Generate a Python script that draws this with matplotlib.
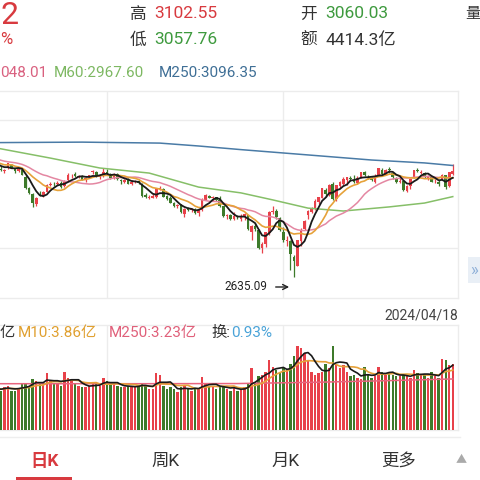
import matplotlib
matplotlib.use('Agg')
import matplotlib.pyplot as plt
import numpy as np
import pandas as pd
from matplotlib.transforms import ScaledTranslation
from matplotlib.patches import Rectangle

plt.rcParams['font.family'] = ['Roboto', 'Noto Sans CJK SC', 'DejaVu Sans']

# ---------------- data (trading days Oct 2023 - 2024/04/18) ----------------
opens = [3103, 3083, 3073, 3085, 3100, 3083, 3072, 3079, 3050, 3005, 2980, 2937, 2975, 2971, 2988, 3017, 3021,
         3020, 3025, 3010, 3036, 3056, 3060, 3050, 3052, 3035, 3050, 3070, 3070, 3047, 3052, 3070, 3063, 3044, 3062, 3037, 3030, 3040, 3021,
         3028, 3031, 3020, 2976, 2963, 2963, 2965, 3000, 3000, 2970, 2962, 2940, 2928, 2935, 2895, 2917, 2912, 2917, 2899, 2912, 2955,
         2972, 2960, 2965, 2952, 2927, 2886, 2892, 2876, 2884, 2876, 2885, 2890, 2822, 2844, 2830, 2755, 2771, 2819, 2906, 2910, 2879, 2823,
         2784, 2782, 2716, 2681, 2785, 2833, 2890, 2904, 2916, 2944, 2963, 2996, 2975, 3018, 2956,
         3010, 3020, 3035, 3043, 3036, 3024, 3049, 3070, 3050, 3039, 3028, 3055, 3077, 3058, 3082, 3067, 3046, 3028, 3033, 2990, 3012,
         3044, 3076, 3066, 3064, 3043, 3048, 3032, 3030, 3039, 3055, 3010, 3060.03]
highs = [3107, 3095, 3082, 3108, 3102, 3086, 3086, 3085, 3055, 3009, 2984, 2966, 2990, 2992, 3020, 3028, 3027,
         3034, 3032, 3035, 3065, 3062, 3068, 3058, 3056, 3048, 3058, 3076, 3073, 3056, 3087, 3080, 3066, 3064, 3064, 3041, 3040, 3046, 3036,
         3036, 3039, 3022, 2984, 2975, 2978, 3004, 3010, 3003, 2975, 2970, 2945, 2935, 2938, 2919, 2925, 2922, 2920, 2916, 2960, 2977,
         2976, 2969, 2967, 2972, 2930, 2896, 2895, 2905, 2892, 2895, 2900, 2893, 2852, 2858, 2832, 2779, 2821, 2907, 2929, 2916, 2883, 2843,
         2805, 2787, 2728, 2790, 2836, 2872, 2911, 2923, 2959, 2967, 3005, 3004, 3018, 3029, 3016,
         3032, 3049, 3048, 3052, 3058, 3052, 3070, 3075, 3058, 3050, 3060, 3087, 3085, 3081, 3090, 3071, 3050, 3047, 3036, 3015, 3042,
         3078, 3087, 3076, 3071, 3056, 3052, 3042, 3035, 3063, 3058, 3071, 3102.55]
lows = [3065, 3072, 3064, 3083, 3085, 3065, 3068, 3057, 3000, 2978, 2923, 2930, 2970, 2965, 2985, 3010, 3010,
        3015, 3005, 3008, 3034, 3046, 3049, 3045, 3035, 3030, 3044, 3063, 3050, 3040, 3048, 3060, 3040, 3040, 3038, 3020, 3024, 3020, 3014,
        3022, 3018, 2968, 2960, 2958, 2960, 2963, 2995, 2966, 2953, 2940, 2925, 2920, 2900, 2882, 2907, 2905, 2895, 2889, 2910, 2952,
        2960, 2950, 2950, 2925, 2884, 2875, 2870, 2870, 2876, 2866, 2870, 2831, 2787, 2827, 2752, 2735, 2760, 2810, 2895, 2877, 2827, 2780,
        2763, 2666, 2635.09, 2680, 2762, 2830, 2876, 2900, 2911, 2935, 2960, 2968, 2970, 2953, 2951,
        3005, 3015, 3015, 3033, 3025, 3020, 3044, 3052, 3040, 3031, 3024, 3054, 3055, 3057, 3066, 3040, 3023, 3022, 2991, 2987, 3000,
        3043, 3070, 3060, 3043, 3035, 3027, 3025, 3012, 3035, 3000, 3007, 3057.76]
closes = [3076, 3076, 3078, 3107, 3088, 3074, 3083, 3059, 3005, 2984, 2940, 2962, 2974, 2988, 3017, 3021, 3019,
          3023, 3009, 3030, 3058, 3058, 3052, 3053, 3038, 3046, 3056, 3072, 3051, 3054, 3068, 3067, 3043, 3062, 3041, 3031, 3038, 3021, 3030,
          3031, 3022, 2972, 2968, 2966, 2969, 3003, 3003, 2968, 2958, 2942, 2930, 2932, 2902, 2918, 2914, 2918, 2899, 2914, 2954, 2975,
          2962, 2967, 2954, 2929, 2887, 2893, 2877, 2886, 2882, 2886, 2894, 2833, 2845, 2832, 2756, 2770, 2820, 2906, 2910, 2883, 2830, 2789,
          2788, 2730, 2702, 2789, 2829, 2866, 2910, 2922, 2951, 2964, 3004, 2977, 3016, 2958, 3015,
          3027, 3039, 3048, 3040, 3027, 3046, 3068, 3055, 3044, 3036, 3054, 3084, 3062, 3079, 3077, 3048, 3026, 3031, 2993, 3011, 3041,
          3077, 3074, 3069, 3047, 3048, 3027, 3034, 3019, 3057, 3007, 3071, 3074.22]
volumes = [2.6, 2.5, 2.7, 2.8, 2.5, 2.5, 2.6, 2.9, 3.0, 2.8, 3.2, 3.1, 2.9, 3.0, 3.6, 3.1, 3.0,
           2.9, 2.8, 3.7, 3.3, 3.2, 2.9, 2.8, 2.7, 2.7, 2.8, 3.0, 2.9, 2.8, 3.3, 3.1, 2.9, 2.9, 2.8, 2.7, 2.7, 2.8, 2.8,
           2.7, 2.8, 3.0, 2.8, 2.6, 2.6, 3.6, 3.5, 2.8, 2.6, 2.7, 2.6, 2.4, 2.7, 2.8, 2.6, 2.5, 2.6, 2.6, 3.35, 3.0,
           2.8, 2.7, 2.6, 2.8, 2.8, 2.6, 2.5, 2.7, 2.5, 2.6, 2.7, 2.9, 3.9, 3.0, 3.4, 3.5, 3.7, 4.4, 4.0, 3.8, 3.7, 3.9,
           3.8, 4.2, 4.7, 5.3, 5.2, 4.9, 4.4, 3.7, 3.5, 3.6, 3.7, 4.2, 3.9, 5.3, 4.2,
           3.9, 4.1, 3.7, 3.4, 3.5, 3.3, 3.2, 4.0, 3.5, 3.3, 3.4, 4.0, 3.7, 3.5, 3.6, 3.5, 3.4, 3.4, 3.5, 3.4, 3.3,
           3.8, 3.6, 3.5, 3.5, 3.3, 3.7, 3.4, 3.3, 4.5, 4.4, 4.1, 4.2]
# closes / volumes before the visible window (for moving averages)
prior_closes = [3177, 3154, 3158, 3122, 3117, 3143, 3137, 3123, 3126, 3118, 3125, 3124, 3109, 3084, 3132, 3115, 3103, 3107, 3110]
prior_volumes = [2.6, 2.5, 2.7, 2.4, 2.6, 2.8, 2.5, 2.6, 2.7]
# long moving averages (day index, value)
ma60_idx = [0, 15, 29, 43, 57, 69, 78, 88, 98, 111, 121, 129]
ma60_val = [3168, 3127, 3086, 3065, 3007, 2983, 2954, 2920, 2908, 2925, 2941, 2967.60]
ma250_idx = [0, 24, 46, 57, 69, 88, 106, 121, 129]
ma250_val = [3191, 3193, 3189, 3177, 3162, 3140, 3119, 3107, 3096.35]
vma250_idx = [0, 40, 68, 90, 110, 129]
vma250_val = [2.93, 2.93, 2.94, 3.02, 3.12, 3.23]

# ---------------- helpers ----------------
W = H = 480
fig = plt.figure(figsize=(4.8, 4.8), dpi=100)
fig.patch.set_facecolor('white')
def fx(px): return px / W
def fy(py): return 1 - py / H

RED = '#e8414a'
GRN = '#3d7a2a'
TXT_RED = '#d83a3f'
TXT_GRN = '#3e9a3e'
C_M5 = '#1a1a1a'
C_M10 = '#e6a23a'
C_M20 = '#e487a2'
C_M60 = '#86bf68'
C_M250 = '#4a7ba6'
GRID = '#ececec'

n = len(closes)
x = np.arange(n)
o = np.array(opens, float); h = np.array(highs, float); l = np.array(lows, float); c = np.array(closes, float)
v = np.array(volumes, float)
up = c >= o
cols = np.where(up, RED, GRN)

# index <-> pixel mapping: candle i sits at pixel -2.6 + 3.53 i
xl = ((0 + 2.6) / 3.53, (458 + 2.6) / 3.53)

# ---------------- main candle panel ----------------
ax = fig.add_axes([fx(0), fy(298), fx(458), (298 - 91) / H])
ax.set_xlim(*xl)
ax.set_ylim(2548.2, 3404.5)
ax.spines['left'].set_visible(False)
for s in ['top', 'right', 'bottom']:
    ax.spines[s].set_color(GRID); ax.spines[s].set_linewidth(1)
ax.set_xticks([]); ax.set_yticks([])
for gy in [3283, 2757]:
    ax.axhline(gy, color=GRID, lw=1, zorder=0)
for gx in [107, 283]:
    ax.axvline((gx + 2.6) / 3.53, color=GRID, lw=1, zorder=0)

ax.vlines(x, l, h, colors=cols, lw=0.9, zorder=3)
body_b = np.minimum(o, c)
body_h = np.maximum(np.abs(c - o), 1.2)
ax.bar(x, body_h, bottom=body_b, width=0.74, color=cols, linewidth=0, zorder=4)

allc = pd.Series(prior_closes + closes, dtype=float)
k = len(prior_closes)
ma5 = allc.rolling(5).mean().values[k:]
ma10 = allc.rolling(10).mean().values[k:]
ma20 = allc.rolling(20, min_periods=1).mean().values[k:]
ax.plot(ma60_idx, ma60_val, color=C_M60, lw=1.1, zorder=5)
ax.plot(ma250_idx, ma250_val, color=C_M250, lw=1.1, zorder=5)
ax.plot(x, ma20, color=C_M20, lw=1.1, zorder=5)
ax.plot(x, ma10, color=C_M10, lw=1.2, zorder=6)
ax.plot(x, ma5, color=C_M5, lw=1.3, zorder=7)

lowi = int(np.argmin(l))
tr = lambda dx, dy: ax.transData + ScaledTranslation(dx / 100, dy / 100, fig.dpi_scale_trans)
ax.annotate('', xy=(lowi, l[lowi]), xycoords=tr(-2, -10), xytext=(lowi, l[lowi]), textcoords=tr(-21, -10),
            arrowprops=dict(arrowstyle='->', color='#222222', lw=1.0, mutation_scale=9), annotation_clip=False)
ax.text(lowi, l[lowi], f'{l[lowi]:.2f}', transform=tr(-27, -10), ha='right', va='center', fontsize=8.5, color='#222222')

# ---------------- volume panel ----------------
vax = fig.add_axes([fx(0), fy(430), fx(458), (430 - 325) / H])
vax.set_xlim(*xl)
vax.set_ylim(0, 105 / 15.8)
vax.spines['left'].set_visible(False)
for s in ['top', 'right', 'bottom']:
    vax.spines[s].set_color(GRID); vax.spines[s].set_linewidth(1)
vax.set_xticks([]); vax.set_yticks([])
for gx in [107, 283]:
    vax.axvline((gx + 2.6) / 3.53, color=GRID, lw=1, zorder=0)
vax.bar(x, v, width=0.68, color=cols, linewidth=0, zorder=3)
allv = pd.Series(prior_volumes + volumes, dtype=float)
kv = len(prior_volumes)
vma5 = allv.rolling(5).mean().values[kv:]
vma10 = allv.rolling(10).mean().values[kv:]
vax.plot(vma250_idx, vma250_val, color='#e8657e', lw=1.1, zorder=5)
vax.plot(x, vma10, color=C_M10, lw=1.2, zorder=6)
vax.plot(x, vma5, color=C_M5, lw=1.2, zorder=7)

# ---------------- texts ----------------
def t(px, py, s, color='#333333', size=12, ha='left', weight='normal'):
    fig.text(fx(px), fy(py), s, color=color, fontsize=size, ha=ha, va='center', fontweight=weight)

# visible (cropped) parts of the quote header
t(0, 16, '2', TXT_RED, 23)
t(0, 40, '%', TXT_RED, 12)
t(130, 14, '高', '#333333', 12)
t(154, 14, '3102.55', TXT_RED, 12.5)
t(130, 40, '低', '#333333', 12)
t(154, 40, '3057.76', TXT_GRN, 12.5)
t(300, 14, '开', '#333333', 12)
t(325, 14, '3060.03', TXT_GRN, 12.5)
t(300, 40, '额', '#333333', 12)
t(325, 40, '4414.3亿', '#333333', 12.5)
t(480, 14, '量', '#333333', 11, ha='right')

t(0, 73, '048.01', '#d9607f', 11)
t(54, 73, 'M60:2967.60', '#7db862', 11)
t(159, 73, 'M250:3096.35', '#3f6f96', 11)

t(458, 315, '2024/04/18', '#444444', 10, ha='right')

t(0, 333, '亿', '#333333', 11)
t(18, 333, 'M10:3.86亿', '#e0a030', 11)
t(109, 333, 'M250:3.23亿', '#e0607a', 11)
t(211, 333, '换:', '#333333', 11)
t(231, 333, '0.93%', '#4aa3d8', 11)

# side button
fig.patches.append(Rectangle((fx(468), fy(283)), fx(14), 26 / H, transform=fig.transFigure,
                             facecolor='#e9eff6', edgecolor='none'))
t(474, 270, '»', '#8fb0d8', 12, ha='center')

# bottom tabs
fig.add_artist(plt.Line2D([0, fx(460)], [fy(437), fy(437)], color='#eeeeee', lw=1, transform=fig.transFigure))
t(45, 461, '日K', TXT_RED, 12.5, ha='center', weight='bold')
t(165, 461, '周K', '#333333', 12.5, ha='center')
t(286, 461, '月K', '#333333', 12.5, ha='center')
t(399, 461, '更多', '#333333', 12.5, ha='center')
t(461, 460, '▲', '#aaaaaa', 8, ha='center')
fig.patches.append(Rectangle((fx(16), fy(480)), fx(56), 3 / H, transform=fig.transFigure,
                             facecolor='#d83a3f', edgecolor='none'))

fig.savefig('out.png', dpi=100)
